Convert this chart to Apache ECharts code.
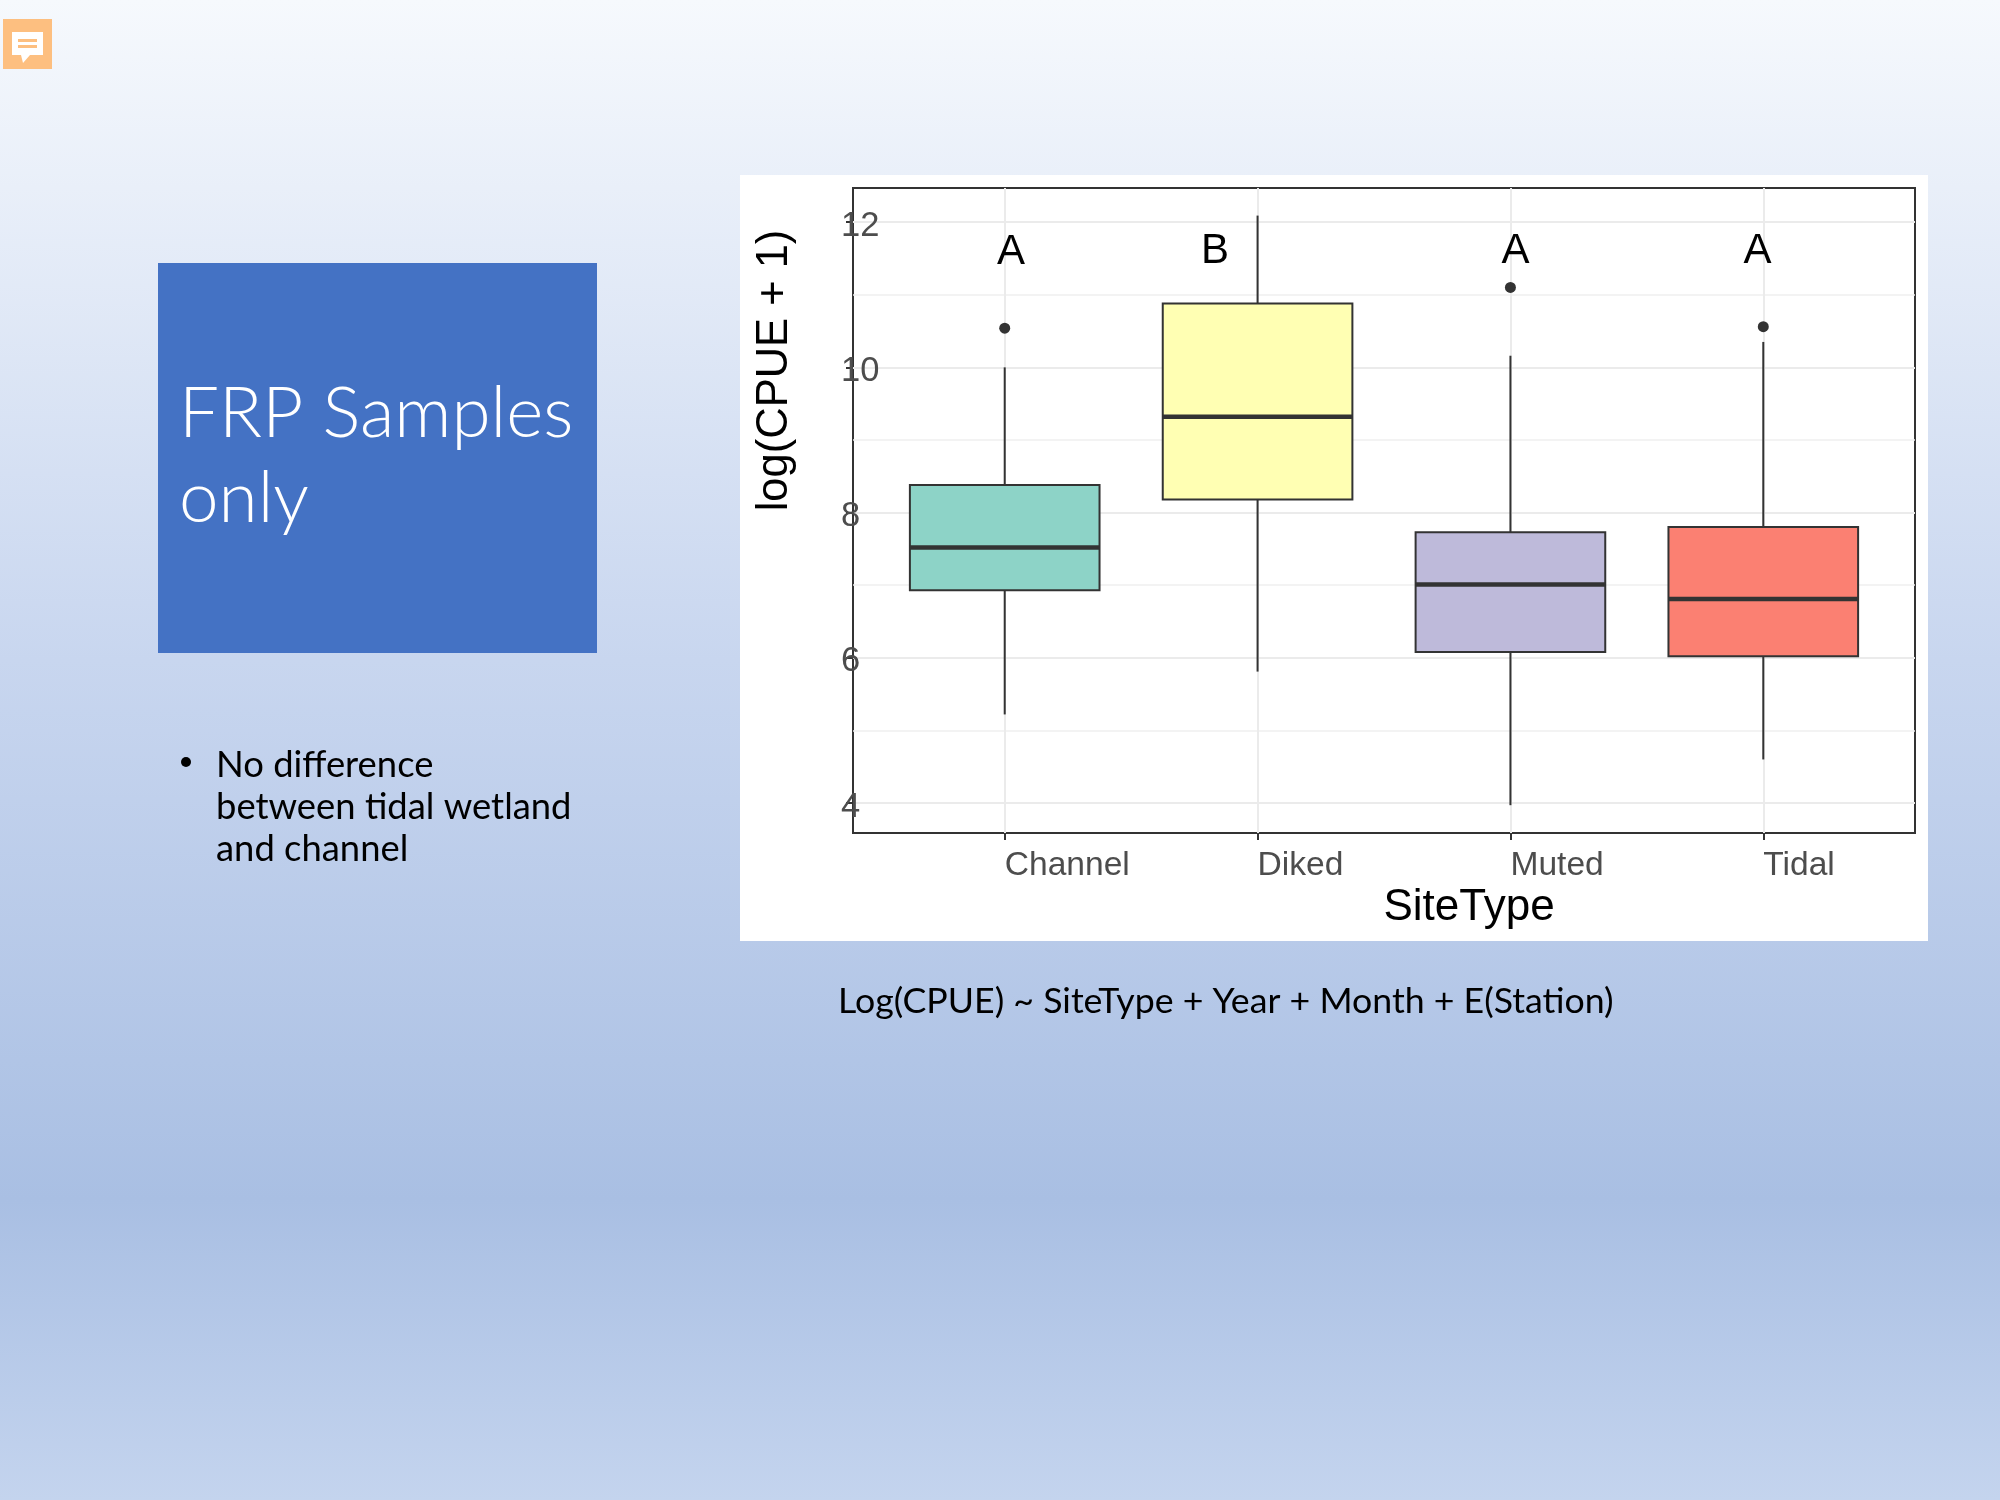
<!DOCTYPE html>
<html>
<head>
<meta charset="utf-8">
<style>html,body{margin:0;padding:0;background:#fff}#c{width:2000px;height:1500px}</style>
<script src="https://cdn.jsdelivr.net/npm/echarts@6/dist/echarts.min.js"></script>
</head>
<body>
<div id="c"></div>
<script>
const categories = ['Channel', 'Diked', 'Muted', 'Tidal'];
const positions = [1, 2, 3, 4];
const whiskerLow = [5.22, 5.81, 3.97, 4.60];
const quartile1 = [6.93, 8.18, 6.08, 6.02];
const medians = [7.52, 9.32, 7.01, 6.81];
const quartile3 = [8.38, 10.88, 7.73, 7.80];
const whiskerHigh = [10.0, 12.09, 10.16, 10.35];
const boxColors = ['#8dd3c7', '#ffffb3', '#bebada', '#fb8072'];
const outlierX = [1, 3, 4];
const outlierY = [10.54, 11.10, 10.56];
const letters = ['A', 'B', 'A', 'A'];
const letterX = [1.025, 1.832, 3.02, 3.977];
const letterY = [11.58, 11.59, 11.59, 11.60];
const yMajor = [4, 6, 8, 10, 12];
const yMinor = [5, 7, 9, 11];

const boxRows = categories.map((c, i) => [positions[i], whiskerLow[i], quartile1[i], medians[i], quartile3[i], whiskerHigh[i], i]);
const ink = '#333333';
const sans = '"Liberation Sans", Arial, sans-serif';
const slide = 'Lato, "Open Sans", sans-serif';

function renderBox(params, api) {
  const x = api.value(0);
  const half = api.size([0.75, 0])[0] / 2;
  const at = v => api.coord([x, v]);
  const cx = at(0)[0];
  const yLow = at(api.value(1))[1], yQ1 = at(api.value(2))[1], yMed = at(api.value(3))[1];
  const yQ3 = at(api.value(4))[1], yHigh = at(api.value(5))[1];
  const fill = boxColors[api.value(6)];
  const line = { stroke: ink, lineWidth: 2, fill: null };
  return {
    type: 'group',
    children: [
      { type: 'line', shape: { x1: cx, y1: yHigh, x2: cx, y2: yQ3 }, style: line },
      { type: 'line', shape: { x1: cx, y1: yQ1, x2: cx, y2: yLow }, style: line },
      { type: 'rect', shape: { x: cx - half, y: yQ3, width: half * 2, height: yQ1 - yQ3 }, style: { fill: fill, stroke: ink, lineWidth: 2 } },
      { type: 'line', shape: { x1: cx - half, y1: yMed, x2: cx + half, y2: yMed }, style: { stroke: ink, lineWidth: 4.5 } }
    ]
  };
}

const chart = echarts.init(document.getElementById('c'), null, { renderer: 'canvas', width: 2000, height: 1500 });
chart.setOption({
  animation: false,
  backgroundColor: new echarts.graphic.LinearGradient(0, 0, 0, 1, [
    { offset: 0, color: '#f6f9fd' },
    { offset: 0.44, color: '#c8d6ef' },
    { offset: 0.8, color: '#a9bfe3' },
    { offset: 1, color: '#c4d4ee' }
  ]),
  graphic: { elements: [
    { type: 'rect', z: -10, shape: { x: 740, y: 175, width: 1188, height: 766 }, style: { fill: '#ffffff' } },
    { type: 'rect', shape: { x: 158, y: 263, width: 439, height: 390 }, style: { fill: '#4472c4' } },
    { type: 'text', x: 179, y: 379, style: { text: 'FRP Samples', font: '300 71px ' + slide, fill: '#ffffff', textVerticalAlign: 'top' } },
    { type: 'text', x: 179, y: 464, style: { text: 'only', font: '300 71px ' + slide, fill: '#ffffff', textVerticalAlign: 'top' } },
    { type: 'circle', shape: { cx: 186, cy: 762, r: 5 }, style: { fill: '#000000' } },
    { type: 'text', x: 216, y: 747, style: { text: 'No difference', font: '36.4px ' + slide, fill: '#000000' } },
    { type: 'text', x: 216, y: 789, style: { text: 'between tidal wetland', font: '36.4px ' + slide, fill: '#000000' } },
    { type: 'text', x: 216, y: 831, style: { text: 'and channel', font: '36.4px ' + slide, fill: '#000000' } },
    { type: 'text', x: 838, y: 983, style: { text: 'Log(CPUE) ~ SiteType + Year + Month + E(Station)', font: '35.7px ' + slide, fill: '#000000' } },
    { type: 'rect', shape: { x: 3, y: 19, width: 49, height: 50 }, style: { fill: '#fdbf80' } },
    { type: 'polygon', shape: { points: [[12, 32], [43, 32], [43, 55], [30, 55], [23, 63], [21, 55], [12, 55]] }, style: { fill: '#ffffff' } },
    { type: 'rect', shape: { x: 18, y: 39, width: 19, height: 3 }, style: { fill: '#fdbf80' } },
    { type: 'rect', shape: { x: 18, y: 45, width: 19, height: 3 }, style: { fill: '#fdbf80' } }
  ] },
  grid: { left: 853, top: 188, width: 1062, height: 645, show: true, borderColor: ink, borderWidth: 2, backgroundColor: 'transparent', containLabel: false },
  xAxis: {
    type: 'value', min: 0.4, max: 4.6,
    name: 'SiteType', nameLocation: 'middle', nameGap: 53,
    nameTextStyle: { fontFamily: sans, fontSize: 44, color: '#000', padding: [0, 0, 0, 170] },
    axisLine: { show: false },
    axisTick: { show: true, length: 7, lineStyle: { color: ink, width: 2 }, customValues: positions },
    axisLabel: { customValues: positions, formatter: v => categories[positions.indexOf(v)], fontFamily: sans, fontSize: 33.6, color: '#4d4d4d', align: 'left', margin: 16 },
    splitLine: { show: true, lineStyle: { color: '#ebebeb', width: 2 } }
  },
  yAxis: [{
    type: 'value', min: 3.587, max: 12.47,
    name: 'log(CPUE + 1)', nameLocation: 'middle', nameRotate: 90, nameGap: 56,
    nameTextStyle: { fontFamily: sans, fontSize: 43.5, color: '#000', padding: [0, 0, 0, 280] },
    axisLine: { show: false },
    axisTick: { show: true, length: 7, lineStyle: { color: ink, width: 2 }, customValues: yMajor },
    axisLabel: { customValues: yMajor, fontFamily: sans, fontSize: 34.5, color: '#4d4d4d', align: 'left', margin: 12, verticalAlign: 'top', lineHeight: 8 },
    splitLine: { show: true, lineStyle: { color: '#ebebeb', width: 2 } }
  }, {
    type: 'value', min: 3.587, max: 12.47, position: 'left',
    axisLine: { show: false },
    axisTick: { show: false, customValues: yMinor },
    axisLabel: { show: false, customValues: yMinor },
    splitLine: { show: true, lineStyle: { color: '#efefef', width: 1.5 } }
  }],
  series: [
    { type: 'custom', name: 'SiteType', renderItem: renderBox, data: boxRows, encode: { x: 0, y: [1, 2, 3, 4, 5] }, z: 3 },
    { type: 'scatter', name: 'Outliers', data: outlierX.map((x, i) => [x, outlierY[i]]), symbol: 'circle', symbolSize: 11, itemStyle: { color: ink, opacity: 1 }, z: 4 },
    { type: 'scatter', name: 'Groups', data: letterX.map((x, i) => [x, letterY[i], letters[i]]), symbolSize: 0, itemStyle: { opacity: 1 },
      label: { show: true, position: 'inside', formatter: p => p.value[2], fontFamily: sans, fontSize: 42, color: '#000000', textBorderWidth: 0 }, z: 5 }
  ]
});
</script>
</body>
</html>
